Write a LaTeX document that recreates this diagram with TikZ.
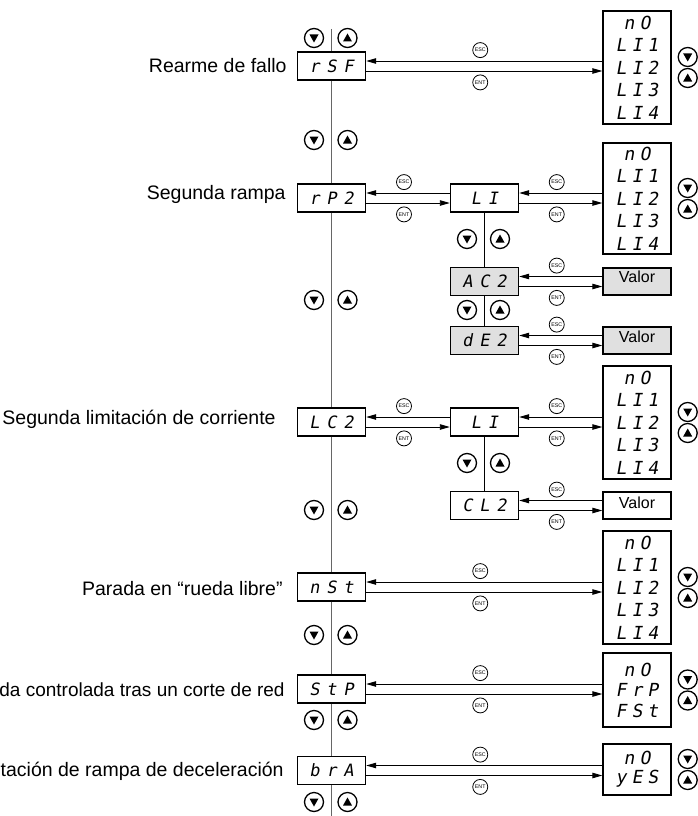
\documentclass[tikz,border=0pt]{standalone}
\usepackage{fontspec}
\setmainfont{Liberation Sans}
\newfontfamily\dispfont{DejaVu Sans Mono}[LetterSpace=40,FakeSlant=0.18]
\newfontfamily\listfont{DejaVu Sans Mono}[LetterSpace=28,FakeSlant=0.18]
\usetikzlibrary{arrows.meta,positioning,calc}
\newcommand\dseg[1]{{\dispfont #1}}
\newcommand\lseg[1]{{\listfont #1}}

\begin{document}
\begin{tikzpicture}[x=1pt, y=-1pt,
    >={Triangle[length=10pt,width=5.5pt]},
    disp/.style={draw, line width=1.4pt, fill=#1, minimum width=68pt, minimum height=28pt, inner sep=0pt, font=\fontsize{17}{20}\selectfont},
    disp/.default=white,
    lst/.style={draw, line width=1.4pt, minimum width=68pt, minimum height=#1, inner sep=0pt, align=center, font=\fontsize{18}{22.5}\selectfont},
    valbox/.style={draw, line width=1.4pt, fill=#1, minimum width=68pt, minimum height=27pt, inner sep=0pt, font=\fontsize{16}{19}\selectfont},
    valbox/.default=white,
    lbl/.style={anchor=base east, inner sep=0pt, font=\fontsize{19.5}{23}\selectfont},
    key/.style={circle, draw, line width=1.3pt, minimum size=19pt, inner sep=0pt},
    keydn/.style={key, path picture={\fill ([shift={(-4.5pt,3.5pt)}]path picture bounding box.center) -- ++(9pt,0pt) -- ++(-4.5pt,-8pt) -- cycle;}},
    keyup/.style={key, path picture={\fill ([shift={(-4.5pt,-3.5pt)}]path picture bounding box.center) -- ++(9pt,0pt) -- ++(-4.5pt,8pt) -- cycle;}},
    tag/.style={circle, draw, line width=0.8pt, minimum size=15pt, inner sep=0pt, font=\fontsize{5.3}{6}\selectfont},
    arr/.style={->, line width=0.9pt},
    vline/.style={line width=1pt, draw=black!60}
]
    \useasboundingbox (0,0) rectangle (697,816);

    % main menu column
    \node[disp] (rsf) at (331.5,66) {\dseg{rSF}};
    \node[disp] (rp) at (331.5,198) {\dseg{rP2}};
    \node[disp] (lc) at (331.5,422) {\dseg{LC2}};
    \node[disp] (nst) at (331.5,587) {\dseg{nSt}};
    \node[disp] (stp) at (331.5,689) {\dseg{StP}};
    \node[disp] (bra) at (331.5,770.5) {\dseg{brA}};

    % labels
    \node[lbl] (t-rsf) at ($(rsf.west)+(-10,7)$) {Rearme de fallo};
    \node[lbl] (t-rp) at ($(rp.west)+(-11,1.5)$) {Segunda rampa};
    \node[lbl] (t-lc) at ($(lc.west)+(-21,2.5)$) {Segunda limitación de corriente};
    \node[lbl] (t-nst) at ($(nst.west)+(-14,8)$) {Parada en “rueda libre”};
    \node[lbl, font=\fontsize{19}{23}\selectfont] (t-stp) at ($(stp.west)+(-12,7)$) {da controlada tras un corte de red};
    \node[lbl] (t-bra) at ($(bra.west)+(-13,6)$) {tación de rampa de deceleración};

    % sub menus
    \node[disp] (li1) at (484.5,198) {\dseg{LI}};
    \node[disp=black!12] (ac) at (484.5,281.5) {\dseg{AC2}};
    \node[disp=black!12] (de) at (484.5,340.5) {\dseg{dE2}};
    \node[disp] (li2) at (484.5,422) {\dseg{LI}};
    \node[disp] (cl) at (484.5,505.5) {\dseg{CL2}};

    % choices
    \node[lst=113pt] (lst1) at (637,67.5) {\lseg{nO}\\\lseg{LI1}\\\lseg{LI2}\\\lseg{LI3}\\\lseg{LI4}};
    \node[lst=111pt] (lst2) at (637,198.5) {\lseg{nO}\\\lseg{LI1}\\\lseg{LI2}\\\lseg{LI3}\\\lseg{LI4}};
    \node[valbox=black!12] (val1) at (637,281.5) {\raisebox{-1pt}[0pt][0pt]{Valor}};
    \node[valbox=black!12] (val2) at (637,340.5) {\raisebox{-2pt}[0pt][0pt]{Valor}};
    \node[lst=113pt] (lst3) at (637,422.5) {\lseg{nO}\\\lseg{LI1}\\\lseg{LI2}\\\lseg{LI3}\\\lseg{LI4}};
    \node[valbox] (val3) at (637,505.5) {\raisebox{-3pt}[0pt][0pt]{Valor}};
    \node[lst=113pt] (lst4) at (637,587.5) {\lseg{nO}\\\lseg{LI1}\\\lseg{LI2}\\\lseg{LI3}\\\lseg{LI4}};
    \node[lst=74pt, font=\fontsize{18}{20.5}\selectfont] (lst5) at (637,690) {\lseg{nO}\\\lseg{FrP}\\\lseg{FSt}};
    \node[lst=51pt, font=\fontsize{18}{19}\selectfont] (lst6) at (637,769.5) {\lseg{nO}\\\lseg{yES}};

    % vertical links
    \coordinate (top) at (331.5,29);
    \coordinate (bot) at (331.5,816);
    \draw[vline] (top) -- (rsf) -- (rp) -- (lc) -- (nst) -- (stp) -- (bra) -- (bot);
    \draw[line width=0.9pt] (li1) -- (ac) -- (de);
    \draw[line width=0.9pt] (li2) -- (cl);

    % up/down keys
    \foreach \y [count=\i] in {38,140,300,510,635,720,802}{
        \node[keydn] (dn\i) at (314,\y) {};
        \node[keyup] (up\i) at (347.5,\y) {};
    }
    \foreach \y [count=\i] in {239,310,463}{
        \node[keydn] (sdn\i) at (467,\y) {};
        \node[keyup] (sup\i) at (500,\y) {};
    }
    \foreach \l in {lst1,lst2,lst3,lst4,lst5,lst6}{
        \node[keydn] (dn-\l) at ($(\l.east)+(16,-10.5)$) {};
        \node[keyup] (up-\l) at ($(\l.east)+(16,10.5)$) {};
    }

    % ESC / ENT links
    \foreach \a/\b in {rsf/lst1, rp/li1, li1/lst2, ac/val1, de/val2, lc/li2, li2/lst3, cl/val3, nst/lst4, stp/lst5, bra/lst6}{
        \draw[arr] ($(\a.east -| \b.west)+(0,-5)$) -- ($(\a.east)+(0,-5)$)
            node[tag, midway, above=3pt, xshift=-4pt] (esc-\a) {ESC};
        \draw[arr] ($(\a.east)+(0,5)$) -- ($(\a.east -| \b.west)+(0,5)$)
            node[tag, midway, below=3.5pt, xshift=-4pt] (ent-\a) {ENT};
    }
\end{tikzpicture}
\end{document}
